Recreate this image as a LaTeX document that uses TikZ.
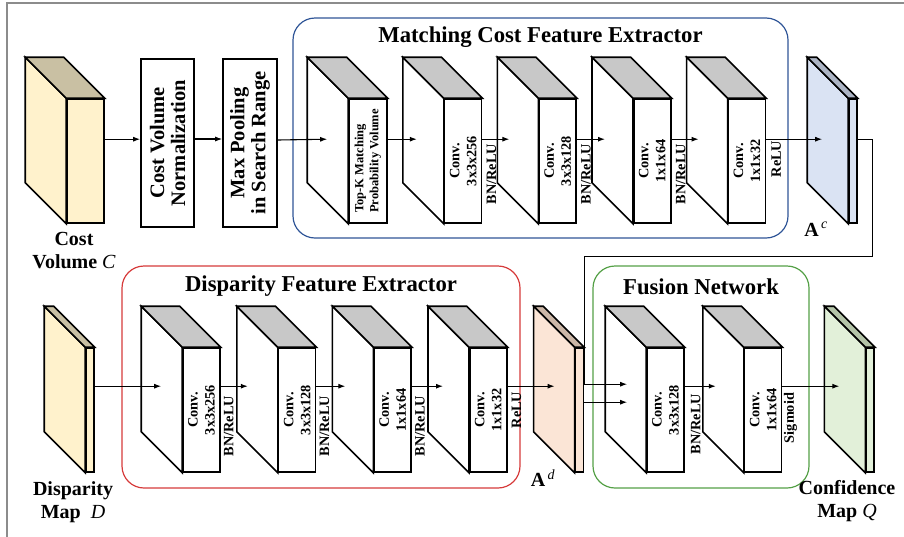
\documentclass[tikz,border=0pt]{standalone}
\usepackage{fontspec}
\setmainfont{Liberation Serif}
\usetikzlibrary{calc, arrows.meta, positioning}

\definecolor{costyel}{RGB}{255,242,204}
\definecolor{costtan}{RGB}{201,192,163}
\definecolor{acblue}{RGB}{218,227,243}
\definecolor{actop}{RGB}{172,180,196}
\definecolor{adpeach}{RGB}{251,229,214}
\definecolor{adtop}{RGB}{203,182,166}
\definecolor{qgreen}{RGB}{226,240,217}
\definecolor{qtop}{RGB}{180,196,168}
\definecolor{convtop}{RGB}{200,200,200}
\definecolor{mcblue}{RGB}{47,85,151}
\definecolor{dfred}{RGB}{214,58,58}
\definecolor{fngreen}{RGB}{84,160,70}

% side and top faces behind a front face node: #1 node, #2 top fill, #3 side fill
\newcommand{\blockdepth}[3]{%
  \draw[bline, fill=#3] (#1.north west) -- ++(-41,-41) -- ($(#1.south west)+(-41,-41)$) -- (#1.south west) -- cycle;
  \draw[bline, fill=#2] (#1.north west) -- ++(-41,-41) -- ($(#1.north east)+(-41,-41)$) -- (#1.north east) -- cycle;}

\begin{document}
\begin{tikzpicture}[x=1pt, y=-1pt, >={Latex[length=7pt,width=5pt]}, font=\bfseries,
  bline/.style={draw, line width=1.6pt, line join=miter},
  conv/.style={bline, fill=white, minimum width=37, minimum height=124, inner sep=0pt},
  slab/.style={conv, minimum width=8},
  opbox/.style={bline, fill=white, minimum width=54, minimum height=168, inner sep=0pt},
  stage/.style={draw=#1, line width=1.2pt, rounded corners=22pt, inner sep=0pt},
  title/.style={font=\fontsize{22.7}{26}\selectfont\bfseries},
  lbl/.style={font=\fontsize{20}{23}\selectfont\bfseries, align=center},
  facetext/.style={font=\fontsize{14.3}{17}\selectfont\bfseries, rotate=90, align=center},
  topktext/.style={font=\fontsize{12.5}{15}\selectfont\bfseries, rotate=90, align=left},
  optext/.style={font=\fontsize{20.5}{21}\selectfont\bfseries, rotate=90, align=center},
  arr/.style={->, line width=1.1pt},
  outer/.style={draw=black!45, line width=1.2pt}]
\useasboundingbox (0,0) rectangle (904,536);
\draw[outer] (7,545) |- (912,3);

% --- group frames
\node[stage=mcblue, minimum width=495, minimum height=220] (mcbox) at (540.5,128) {};
\node[title] (mctitle) at ($(mcbox.north)+(0,20)$) {Matching Cost Feature Extractor};
\node[stage=dfred, minimum width=398, minimum height=222] (dfbox) at (321,377) {};
\node[title] (dftitle) at ($(dfbox.north)+(0,21)$) {Disparity Feature Extractor};
\node[stage=fngreen, minimum width=216, minimum height=222] (fnbox) at (701,377) {};
\node[title] (fntitle) at ($(fnbox.north)+(0,21)$) {Fusion Network};

% --- cost volume branch
\node[conv, fill=costyel] (cost) at (85.5,161) {};
\blockdepth{cost}{costtan}{costyel}
\node[lbl] (costlbl) at (74,251) {Cost\\Volume {\mdseries\itshape C}};

\node[opbox, minimum width=53] (norm) at (167.5,143) {};
\node[optext] (t-norm) at (norm) {Cost Volume\\Normalization};
\node[opbox] (pool) at (250,143) {};
\node[optext] (t-pool) at (pool) {Max Pooling\\in Search Range};

\node[conv, minimum width=38] (topk) at (368,161) {};
\blockdepth{topk}{convtop}{white}
\node[topktext] (t-topk) at (topk) {Top-K Matching\\Probability Volume};

\node[conv, right=56pt of topk] (mc1) {};
\node[conv, right=56pt of mc1] (mc2) {};
\node[conv, right=56pt of mc2] (mc3) {};
\node[conv, right=56pt of mc3] (mc4) {};
\foreach \b in {mc1, mc2, mc3, mc4} {\blockdepth{\b}{convtop}{white}}
\node[facetext] (t-mc1) at (mc1) {Conv.\\3x3x256};
\node[facetext] (t-mc2) at (mc2) {Conv.\\3x3x128};
\node[facetext] (t-mc3) at (mc3) {Conv.\\1x1x64};
\node[facetext] (t-mc4) at (mc4) {Conv.\\1x1x32};
\node[facetext] (a-mc1) at ($(mc1.east)+(9,13)$) {BN/ReLU};
\node[facetext] (a-mc2) at ($(mc2.east)+(9,13)$) {BN/ReLU};
\node[facetext] (a-mc3) at ($(mc3.east)+(9,13)$) {BN/ReLU};
\node[facetext] (a-mc4) at ($(mc4.east)+(10,-2)$) {ReLU};

\node[slab, fill=acblue, right=82pt of mc4] (ac) {};
\blockdepth{ac}{actop}{acblue}
\node[lbl] (aclbl) at (816,229) {A\textsuperscript{\mdseries\itshape\,c}};

\draw[arr] ($(cost.north east)+(0,41)$) -- (norm.west |- {$(cost.north east)+(0,41)$});
\draw[arr] ($(norm.east)+(0,-4)$) -- ($(pool.west)+(0,-4)$);
\draw[arr] ($(pool.east)+(0,-3)$) -- ($(topk.north west)+(-21,41)$);
\draw[arr] ($(topk.north east)+(0,41)$) -- ($(mc1.north west)+(-27,41)$);
\draw[arr] ($(mc1.north east)+(0,41)$) -- ($(mc2.north west)+(-29,41)$);
\draw[arr] ($(mc2.north east)+(0,41)$) -- ($(mc3.north west)+(-28,41)$);
\draw[arr] ($(mc3.north east)+(0,41)$) -- ($(mc4.north west)+(-29,41)$);
\draw[arr] ($(mc4.north east)+(0,41)$) -- ($(ac.north west)+(-26,41)$);

% --- disparity branch
\node[slab, fill=costyel] (disp) at (90,410) {};
\blockdepth{disp}{costtan}{costyel}
\node[lbl] (displbl) at (73,502) {Disparity\\Map\enspace{\mdseries\itshape D}};

\node[conv] (dc1) at (201.5,410) {};
\node[conv, right=57pt of dc1] (dc2) {};
\node[conv, right=57pt of dc2] (dc3) {};
\node[conv, right=57pt of dc3] (dc4) {};
\foreach \b in {dc1, dc2, dc3, dc4} {\blockdepth{\b}{convtop}{white}}
\node[facetext] (t-dc1) at (dc1) {Conv.\\3x3x256};
\node[facetext] (t-dc2) at (dc2) {Conv.\\3x3x128};
\node[facetext] (t-dc3) at (dc3) {Conv.\\1x1x64};
\node[facetext] (t-dc4) at (dc4) {Conv.\\1x1x32};
\node[facetext] (a-dc1) at ($(dc1.east)+(8,16)$) {BN/ReLU};
\node[facetext] (a-dc2) at ($(dc2.east)+(8,16)$) {BN/ReLU};
\node[facetext] (a-dc3) at ($(dc3.east)+(8,16)$) {BN/ReLU};
\node[facetext] (a-dc4) at ($(dc4.east)+(9,0)$) {ReLU};

\node[slab, fill=adpeach, right=67pt of dc4] (ad) {};
\blockdepth{ad}{adtop}{adpeach}
\node[lbl] (adlbl) at (543,478) {A\textsuperscript{\mdseries\itshape\,d}};

\draw[arr] ($(disp.north east)+(0,39)$) -- ($(dc1.north west)+(-21,39)$);
\draw[arr] ($(dc1.north east)+(0,39)$) -- ($(dc2.north west)+(-30,39)$);
\draw[arr] ($(dc2.north east)+(0,39)$) -- ($(dc3.north west)+(-28,39)$);
\draw[arr] ($(dc3.north east)+(0,39)$) -- ($(dc4.north west)+(-26,39)$);
\draw[arr] ($(dc4.north east)+(0,39)$) -- ($(ad.north west)+(-20,39)$);

% --- fusion
\node[conv] (fu1) at (665.5,410) {};
\node[conv, right=59pt of fu1] (fu2) {};
\foreach \b in {fu1, fu2} {\blockdepth{\b}{convtop}{white}}
\node[facetext] (t-fu1) at (fu1) {Conv.\\3x3x128};
\node[facetext] (t-fu2) at (fu2) {Conv.\\1x1x64};
\node[facetext] (a-fu1) at ($(fu1.east)+(11,14)$) {BN/ReLU};
\node[facetext] (a-fu2) at ($(fu2.east)+(8,8)$) {Sigmoid};

\node[slab, fill=qgreen, right=83pt of fu2] (conf) {};
\blockdepth{conf}{qtop}{qgreen}
\node[lbl] (conflbl) at (847,501) {Confidence\\Map {\mdseries\itshape Q}};

\draw[arr] ($(ac.north east)+(0,41)$) -| ++(15,117) -| ($(fu1.north west)+(-62,37)$) -- ($(fu1.north west)+(-19,37)$);
\draw[arr] ($(ad.north east)+(0,55)$) -- ($(fu1.north west)+(-19,55)$);
\draw[arr] ($(fu1.north east)+(0,39)$) -- ($(fu2.north west)+(-28,39)$);
\draw[arr] ($(fu2.north east)+(0,39)$) -- ($(conf.north west)+(-26,39)$);
\end{tikzpicture}
\end{document}
